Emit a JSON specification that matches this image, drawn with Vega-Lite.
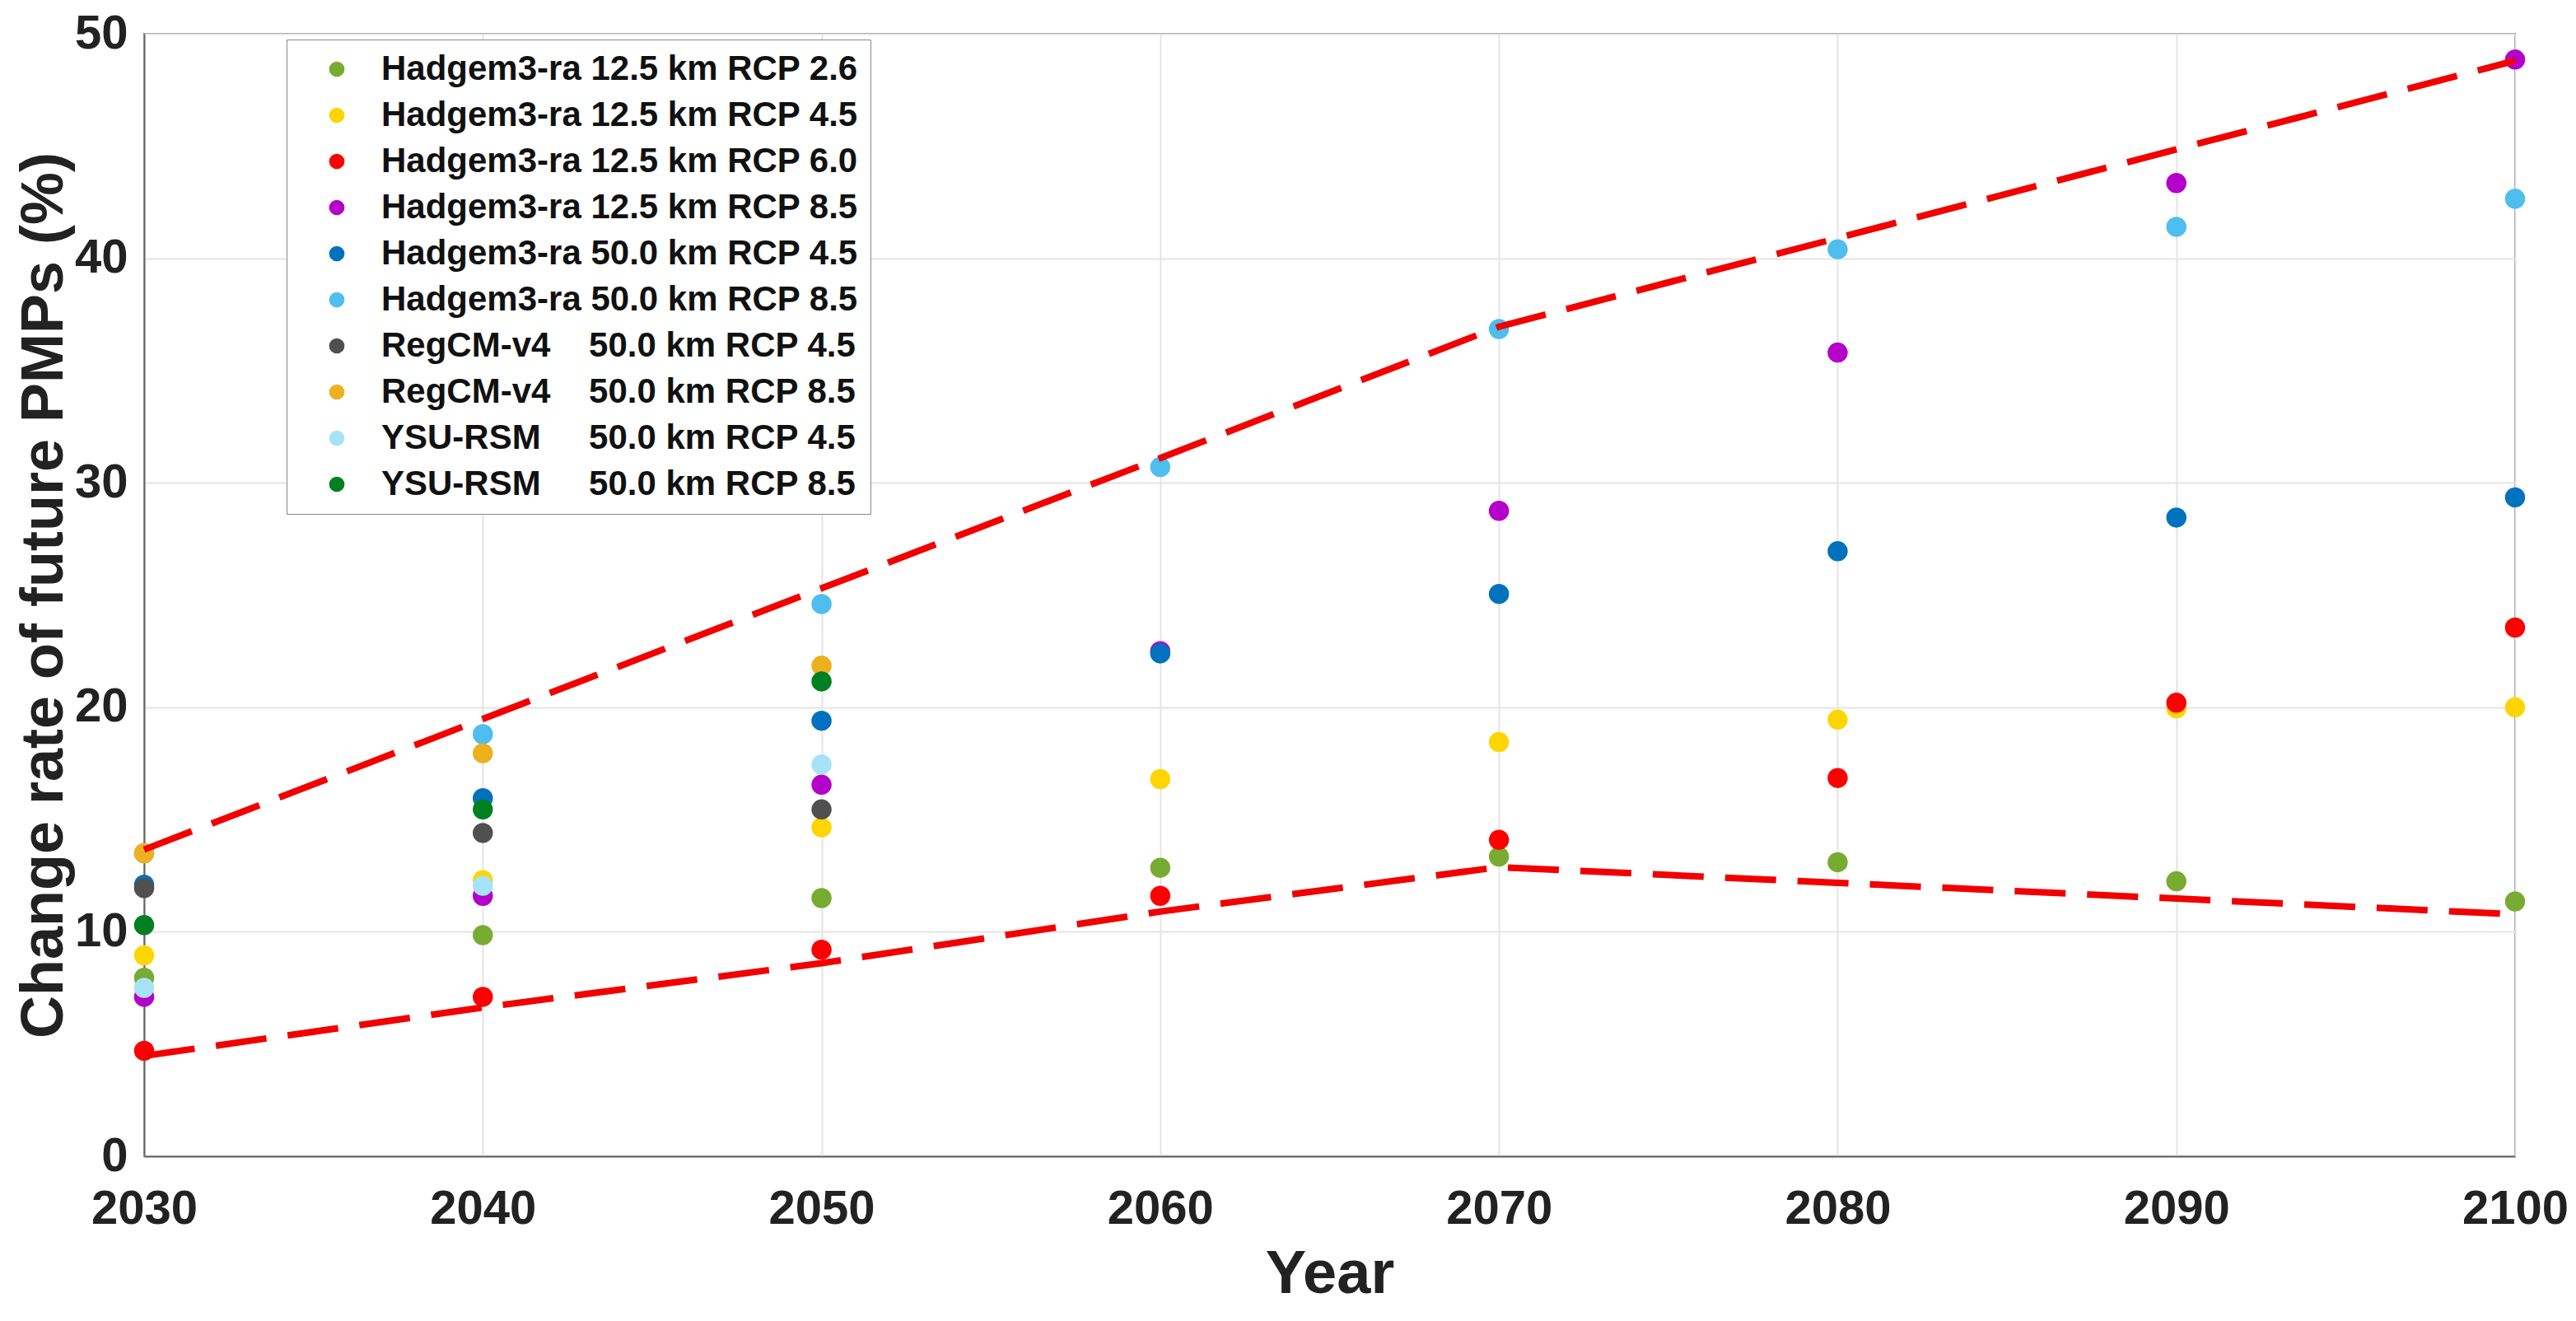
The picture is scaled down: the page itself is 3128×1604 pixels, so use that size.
{
  "$schema": "https://vega.github.io/schema/vega-lite/v6.json",
  "autosize": {"type": "none"},
  "width": 2879,
  "height": 1363,
  "padding": {"left": 175, "top": 41, "right": 74, "bottom": 200},
  "background": "white",
  "config": {
    "font": "Liberation Sans",
    "view": {"stroke": "#777777", "strokeWidth": 2},
    "axis": {
      "domainColor": "#666666",
      "domainWidth": 2,
      "gridColor": "#e4e4e4",
      "gridWidth": 2,
      "ticks": false,
      "labelFont": "Liberation Sans",
      "labelFontSize": 58,
      "labelFontWeight": "bold",
      "labelColor": "#222222",
      "titleFont": "Liberation Sans",
      "titleFontWeight": "bold",
      "titleColor": "#222222"
    }
  },
  "datasets": {
    "points": [
      {"year": 2030, "model": "Hadgem3-ra 12.5 km RCP 2.6", "value": 7.95},
      {"year": 2030, "model": "Hadgem3-ra 12.5 km RCP 4.5", "value": 8.95},
      {"year": 2030, "model": "Hadgem3-ra 12.5 km RCP 6.0", "value": 4.7},
      {"year": 2030, "model": "Hadgem3-ra 12.5 km RCP 8.5", "value": 7.1},
      {"year": 2030, "model": "Hadgem3-ra 50.0 km RCP 4.5", "value": 12.1},
      {"year": 2030, "model": "Hadgem3-ra 50.0 km RCP 8.5", "value": 13.5},
      {"year": 2030, "model": "RegCM-v4\u00a0\u00a0\u00a0\u00a050.0 km RCP 4.5", "value": 11.95},
      {"year": 2030, "model": "RegCM-v4\u00a0\u00a0\u00a0\u00a050.0 km RCP 8.5", "value": 13.5},
      {"year": 2030, "model": "YSU-RSM\u00a0\u00a0\u00a0\u00a0\u00a050.0 km RCP 4.5", "value": 7.5},
      {"year": 2030, "model": "YSU-RSM\u00a0\u00a0\u00a0\u00a0\u00a050.0 km RCP 8.5", "value": 10.3},
      {"year": 2040, "model": "Hadgem3-ra 12.5 km RCP 2.6", "value": 9.85},
      {"year": 2040, "model": "Hadgem3-ra 12.5 km RCP 4.5", "value": 12.3},
      {"year": 2040, "model": "Hadgem3-ra 12.5 km RCP 6.0", "value": 7.1},
      {"year": 2040, "model": "Hadgem3-ra 12.5 km RCP 8.5", "value": 11.6},
      {"year": 2040, "model": "Hadgem3-ra 50.0 km RCP 4.5", "value": 15.95},
      {"year": 2040, "model": "Hadgem3-ra 50.0 km RCP 8.5", "value": 18.8},
      {"year": 2040, "model": "RegCM-v4\u00a0\u00a0\u00a0\u00a050.0 km RCP 4.5", "value": 14.4},
      {"year": 2040, "model": "RegCM-v4\u00a0\u00a0\u00a0\u00a050.0 km RCP 8.5", "value": 17.95},
      {"year": 2040, "model": "YSU-RSM\u00a0\u00a0\u00a0\u00a0\u00a050.0 km RCP 4.5", "value": 12.05},
      {"year": 2040, "model": "YSU-RSM\u00a0\u00a0\u00a0\u00a0\u00a050.0 km RCP 8.5", "value": 15.45},
      {"year": 2050, "model": "Hadgem3-ra 12.5 km RCP 2.6", "value": 11.5},
      {"year": 2050, "model": "Hadgem3-ra 12.5 km RCP 4.5", "value": 14.65},
      {"year": 2050, "model": "Hadgem3-ra 12.5 km RCP 6.0", "value": 9.2},
      {"year": 2050, "model": "Hadgem3-ra 12.5 km RCP 8.5", "value": 16.55},
      {"year": 2050, "model": "Hadgem3-ra 50.0 km RCP 4.5", "value": 19.4},
      {"year": 2050, "model": "Hadgem3-ra 50.0 km RCP 8.5", "value": 24.6},
      {"year": 2050, "model": "RegCM-v4\u00a0\u00a0\u00a0\u00a050.0 km RCP 4.5", "value": 15.45},
      {"year": 2050, "model": "RegCM-v4\u00a0\u00a0\u00a0\u00a050.0 km RCP 8.5", "value": 21.85},
      {"year": 2050, "model": "YSU-RSM\u00a0\u00a0\u00a0\u00a0\u00a050.0 km RCP 4.5", "value": 17.45},
      {"year": 2050, "model": "YSU-RSM\u00a0\u00a0\u00a0\u00a0\u00a050.0 km RCP 8.5", "value": 21.15},
      {"year": 2060, "model": "Hadgem3-ra 12.5 km RCP 2.6", "value": 12.85},
      {"year": 2060, "model": "Hadgem3-ra 12.5 km RCP 4.5", "value": 16.8},
      {"year": 2060, "model": "Hadgem3-ra 12.5 km RCP 6.0", "value": 11.6},
      {"year": 2060, "model": "Hadgem3-ra 12.5 km RCP 8.5", "value": 22.5},
      {"year": 2060, "model": "Hadgem3-ra 50.0 km RCP 4.5", "value": 22.4},
      {"year": 2060, "model": "Hadgem3-ra 50.0 km RCP 8.5", "value": 30.7},
      {"year": 2070, "model": "Hadgem3-ra 12.5 km RCP 2.6", "value": 13.35},
      {"year": 2070, "model": "Hadgem3-ra 12.5 km RCP 4.5", "value": 18.45},
      {"year": 2070, "model": "Hadgem3-ra 12.5 km RCP 6.0", "value": 14.1},
      {"year": 2070, "model": "Hadgem3-ra 12.5 km RCP 8.5", "value": 28.75},
      {"year": 2070, "model": "Hadgem3-ra 50.0 km RCP 4.5", "value": 25.05},
      {"year": 2070, "model": "Hadgem3-ra 50.0 km RCP 8.5", "value": 36.85},
      {"year": 2080, "model": "Hadgem3-ra 12.5 km RCP 2.6", "value": 13.1},
      {"year": 2080, "model": "Hadgem3-ra 12.5 km RCP 4.5", "value": 19.45},
      {"year": 2080, "model": "Hadgem3-ra 12.5 km RCP 6.0", "value": 16.85},
      {"year": 2080, "model": "Hadgem3-ra 12.5 km RCP 8.5", "value": 35.8},
      {"year": 2080, "model": "Hadgem3-ra 50.0 km RCP 4.5", "value": 26.95},
      {"year": 2080, "model": "Hadgem3-ra 50.0 km RCP 8.5", "value": 40.4},
      {"year": 2090, "model": "Hadgem3-ra 12.5 km RCP 2.6", "value": 12.25},
      {"year": 2090, "model": "Hadgem3-ra 12.5 km RCP 4.5", "value": 19.95},
      {"year": 2090, "model": "Hadgem3-ra 12.5 km RCP 6.0", "value": 20.2},
      {"year": 2090, "model": "Hadgem3-ra 12.5 km RCP 8.5", "value": 43.35},
      {"year": 2090, "model": "Hadgem3-ra 50.0 km RCP 4.5", "value": 28.45},
      {"year": 2090, "model": "Hadgem3-ra 50.0 km RCP 8.5", "value": 41.4},
      {"year": 2100, "model": "Hadgem3-ra 12.5 km RCP 2.6", "value": 11.35},
      {"year": 2100, "model": "Hadgem3-ra 12.5 km RCP 4.5", "value": 20.0},
      {"year": 2100, "model": "Hadgem3-ra 12.5 km RCP 6.0", "value": 23.55},
      {"year": 2100, "model": "Hadgem3-ra 12.5 km RCP 8.5", "value": 48.85},
      {"year": 2100, "model": "Hadgem3-ra 50.0 km RCP 4.5", "value": 29.35},
      {"year": 2100, "model": "Hadgem3-ra 50.0 km RCP 8.5", "value": 42.65}
    ],
    "bounds": [
      {"year": 2030, "bound": "upper", "value": 13.66},
      {"year": 2040, "bound": "upper", "value": 19.48},
      {"year": 2050, "bound": "upper", "value": 25.3},
      {"year": 2060, "bound": "upper", "value": 31.1},
      {"year": 2070, "bound": "upper", "value": 36.95},
      {"year": 2080, "bound": "upper", "value": 40.9},
      {"year": 2090, "bound": "upper", "value": 44.85},
      {"year": 2100, "bound": "upper", "value": 48.8},
      {"year": 2030, "bound": "lower", "value": 4.47},
      {"year": 2040, "bound": "lower", "value": 6.63},
      {"year": 2050, "bound": "lower", "value": 8.6},
      {"year": 2060, "bound": "lower", "value": 10.9},
      {"year": 2070, "bound": "lower", "value": 12.88},
      {"year": 2080, "bound": "lower", "value": 12.18},
      {"year": 2090, "bound": "lower", "value": 11.48},
      {"year": 2100, "bound": "lower", "value": 10.78}
    ]
  },
  "layer": [
    {
      "data": {"name": "points"},
      "mark": {"type": "point", "shape": "circle", "filled": true, "opacity": 1, "size": 600, "strokeWidth": 0},
      "encoding": {
        "x": {
          "field": "year", "type": "quantitative",
          "scale": {"domain": [2030, 2100], "nice": false, "zero": false},
          "axis": {
            "values": [2030, 2040, 2050, 2060, 2070, 2080, 2090, 2100],
            "format": "d",
            "title": "Year",
            "titleFontSize": 74,
            "labelPadding": 35,
            "titlePadding": 14,
            "labelFlush": false
          }
        },
        "y": {
          "field": "value", "type": "quantitative",
          "scale": {"domain": [0, 50], "nice": false},
          "axis": {
            "values": [0, 10, 20, 30, 40, 50],
            "title": "Change rate of future PMPs (%)",
            "titleFontSize": 72,
            "labelPadding": 20,
            "titlePadding": 0,
            "labelFlush": false
          }
        },
        "color": {
          "field": "model", "type": "nominal",
          "scale": {
            "domain": [
              "Hadgem3-ra 12.5 km RCP 2.6",
              "Hadgem3-ra 12.5 km RCP 4.5",
              "Hadgem3-ra 12.5 km RCP 6.0",
              "Hadgem3-ra 12.5 km RCP 8.5",
              "Hadgem3-ra 50.0 km RCP 4.5",
              "Hadgem3-ra 50.0 km RCP 8.5",
              "RegCM-v4\u00a0\u00a0\u00a0\u00a050.0 km RCP 4.5",
              "RegCM-v4\u00a0\u00a0\u00a0\u00a050.0 km RCP 8.5",
              "YSU-RSM\u00a0\u00a0\u00a0\u00a0\u00a050.0 km RCP 4.5",
              "YSU-RSM\u00a0\u00a0\u00a0\u00a0\u00a050.0 km RCP 8.5"
            ],
            "range": ["#77AC30", "#FFD500", "#FF0000", "#B400C8", "#0072BD", "#4DBEEE", "#505050", "#EDB120", "#A6E3F7", "#008020"]
          },
          "legend": {
            "title": null,
            "orient": "none",
            "legendX": 173,
            "legendY": 7,
            "strokeColor": "#888888",
            "fillColor": "white",
            "padding": 15,
            "symbolOffset": 25,
            "labelOffset": 33,
            "symbolSize": 350,
            "symbolType": "circle",
            "symbolStrokeWidth": 0,
            "labelFont": "Liberation Sans",
            "labelFontSize": 42,
            "labelFontWeight": "bold",
            "labelColor": "#111111",
            "rowPadding": 14,
            "labelLimit": 1000
          }
        }
      }
    },
    {
      "data": {"name": "bounds"},
      "mark": {"type": "line", "color": "#F20000", "strokeWidth": 8, "strokeDash": [62, 26]},
      "encoding": {
        "x": {"field": "year", "type": "quantitative"},
        "y": {"field": "value", "type": "quantitative"},
        "detail": {"field": "bound", "type": "nominal"}
      }
    }
  ]
}
